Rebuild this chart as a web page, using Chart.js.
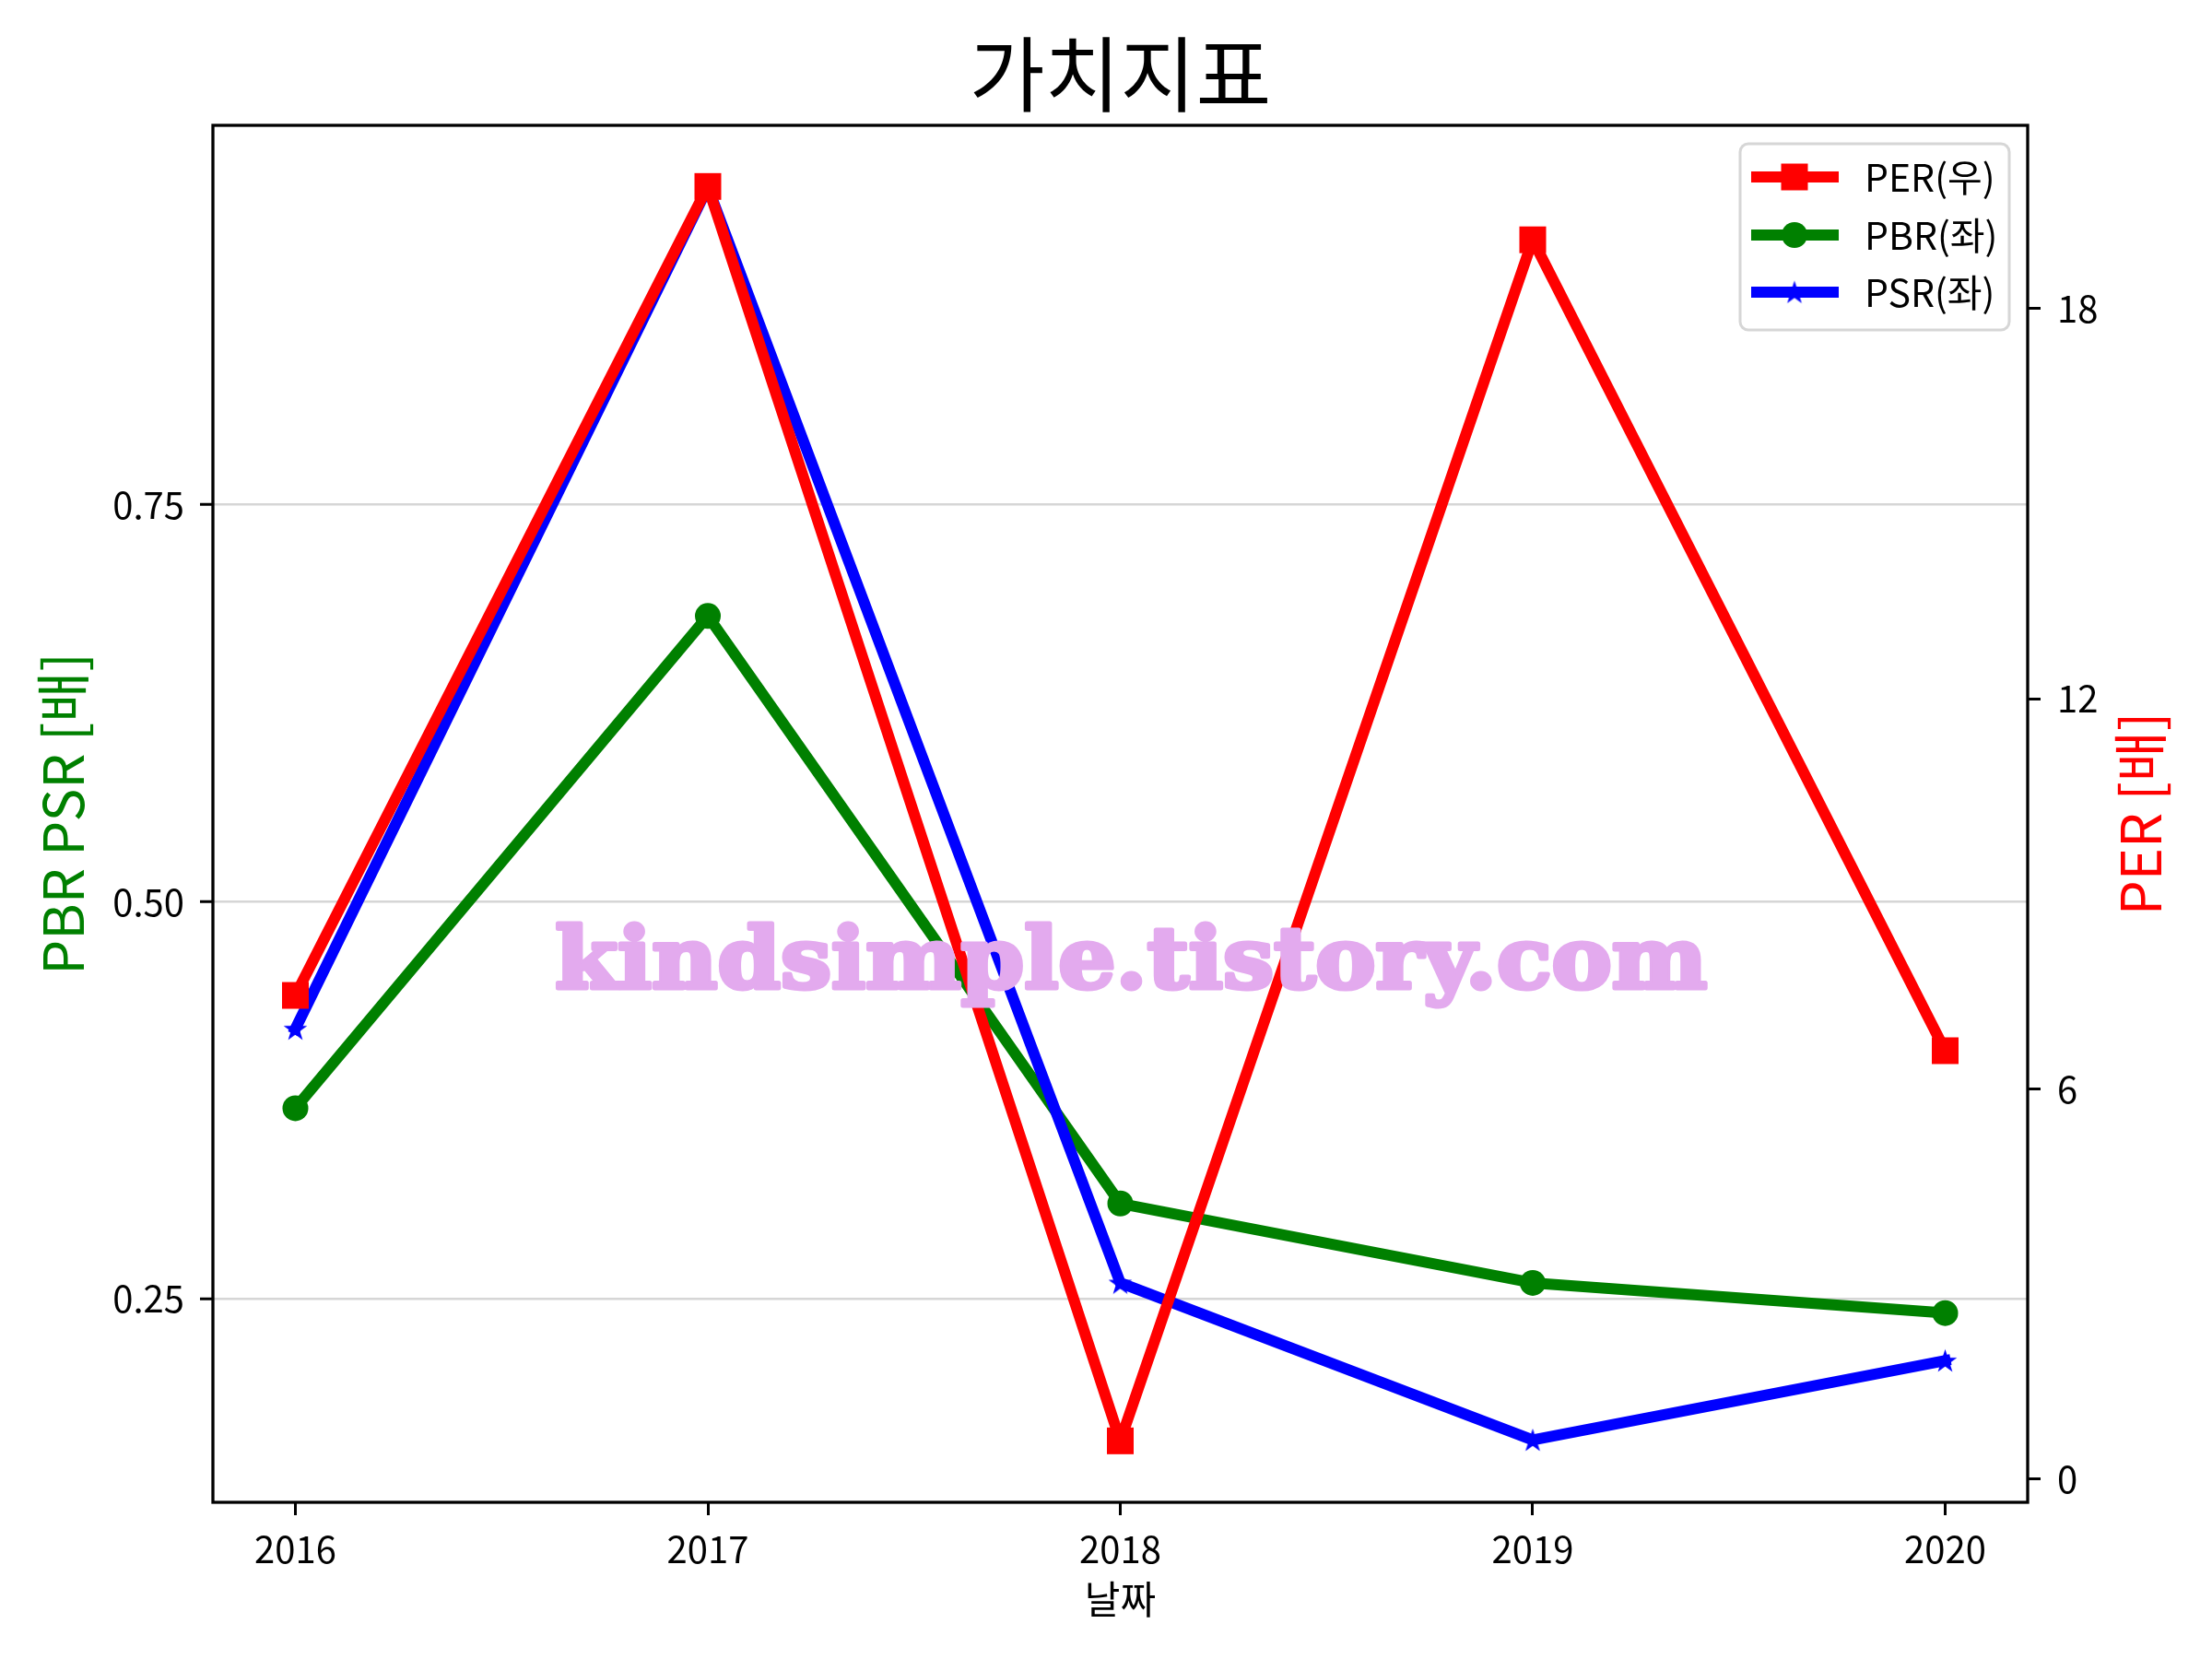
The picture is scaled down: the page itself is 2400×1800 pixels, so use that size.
<!DOCTYPE html>
<html>
<head>
<meta charset="utf-8">
<script src="https://cdn.jsdelivr.net/npm/chart.js@4.4.1/dist/chart.umd.min.js"></script>
<style>
  html, body { margin: 0; padding: 0; background: #fff; }
  canvas { display: block; }
</style>
</head>
<body>
<canvas id="chart" width="2400" height="1800"></canvas>
<script>
// values
const years = [2016, 2017, 2018, 2019, 2020];
const perValues = [7.44, 19.88, 0.59, 19.06, 6.59];
const pbrValues = [0.370, 0.680, 0.310, 0.260, 0.241];
const psrValues = [0.420, 0.950, 0.260, 0.161, 0.211];
const leftTicks = [0.25, 0.50, 0.75];
const rightTicks = [0, 6, 12, 18];
const seriesNames = ['PER(우)', 'PBR(좌)', 'PSR(좌)'];
const seriesColors = ['#ff0000', '#008000', '#0000ff'];

const FONT = "'Noto Sans CJK KR', 'Noto Sans', sans-serif";
Chart.defaults.font.family = FONT;
Chart.defaults.color = '#000';

function makeStar(color, r) {
    const c = document.createElement('canvas');
    const size = Math.ceil(r * 2) + 4;
    c.width = size;
    c.height = size;
    const g = c.getContext('2d');
    g.fillStyle = color;
    g.beginPath();
    for (let i = 0; i < 10; i++) {
        const rad = i % 2 === 0 ? r : r * 0.382;
        const a = -Math.PI / 2 + i * Math.PI / 5;
        const px = size / 2 + rad * Math.cos(a);
        const py = size / 2 + rad * Math.sin(a) + 1;
        if (i === 0) g.moveTo(px, py); else g.lineTo(px, py);
    }
    g.closePath();
    g.fill();
    return c;
}
const starImg = makeStar(seriesColors[2], 13.5);

const toPoints = vals => years.map((y, i) => ({ x: y, y: vals[i] }));

function drawMarker(ctx, kind, x, y, color) {
    ctx.fillStyle = color;
    if (kind === 'rect') {
        ctx.fillRect(x - 14.5, y - 14.5, 29, 29);
    } else if (kind === 'circle') {
        ctx.beginPath();
        ctx.arc(x, y, 14, 0, Math.PI * 2);
        ctx.fill();
    } else {
        ctx.drawImage(starImg, x - starImg.width / 2, y - starImg.height / 2);
    }
}

const decor = {
    id: 'decor',
    afterDatasetsDraw(chart) {
        const { ctx, chartArea: a } = chart;
        // watermark
        const text = 'kindsimple.tistory.com';
        ctx.save();
        ctx.font = "bold 92px 'DejaVu Serif', serif";
        const w = ctx.measureText(text).width;
        const cx = a.left + a.width * 0.506;
        const by = a.top + a.height * 0.6265;
        ctx.translate(cx, by);
        ctx.scale(1250 / w, 1);
        ctx.fillStyle = '#e3aaee';
        ctx.strokeStyle = '#e3aaee';
        ctx.lineWidth = 5;
        ctx.lineJoin = 'round';
        ctx.textAlign = 'center';
        ctx.textBaseline = 'alphabetic';
        ctx.strokeText(text, 0, 0);
        ctx.fillText(text, 0, 0);
        ctx.restore();
    },
    afterDraw(chart) {
        const { ctx, chartArea: a } = chart;
        ctx.save();
        // frame
        ctx.strokeStyle = '#000';
        ctx.lineWidth = 3.3;
        ctx.strokeRect(a.left, a.top, a.right - a.left, a.bottom - a.top);

        // title
        ctx.fillStyle = '#000';
        ctx.font = '89px ' + FONT;
        ctx.textAlign = 'center';
        ctx.textBaseline = 'middle';
        ctx.fillText('가치지표', (a.left + a.right) / 2, 80);

        // right axis title
        ctx.save();
        ctx.translate(2322, (a.top + a.bottom) / 2);
        ctx.rotate(-Math.PI / 2);
        ctx.fillStyle = '#ff0000';
        ctx.font = '60px ' + FONT;
        ctx.fillText('PER [배]', 0, 0);
        ctx.restore();

        // legend
        const bw = 292, bh = 202, r = 9;
        const bx = a.right - 20 - bw, by = a.top + 20;
        ctx.beginPath();
        ctx.moveTo(bx + r, by);
        ctx.arcTo(bx + bw, by, bx + bw, by + bh, r);
        ctx.arcTo(bx + bw, by + bh, bx, by + bh, r);
        ctx.arcTo(bx, by + bh, bx, by, r);
        ctx.arcTo(bx, by, bx + bw, by, r);
        ctx.closePath();
        ctx.fillStyle = 'rgba(255,255,255,0.8)';
        ctx.fill();
        ctx.strokeStyle = '#d6d6d6';
        ctx.lineWidth = 3;
        ctx.stroke();

        const kinds = ['rect', 'circle', 'star'];
        const rows = [36, 99, 161];
        ctx.font = '41px ' + FONT;
        ctx.textAlign = 'left';
        ctx.textBaseline = 'middle';
        seriesNames.forEach((name, i) => {
            const y = by + rows[i];
            ctx.strokeStyle = seriesColors[i];
            ctx.lineWidth = 12;
            ctx.lineCap = 'butt';
            ctx.beginPath();
            ctx.moveTo(bx + 12, y);
            ctx.lineTo(bx + 107, y);
            ctx.stroke();
            drawMarker(ctx, kinds[i], bx + 59, y, seriesColors[i]);
            ctx.fillStyle = '#000';
            ctx.fillText(name, bx + 135, y);
        });
        ctx.restore();
    }
};

const tickGrid = { drawOnChartArea: false, tickLength: 14, tickWidth: 3, tickColor: '#000' };

new Chart(document.getElementById('chart'), {
    type: 'line',
    data: {
        datasets: [
            {
                label: seriesNames[0], data: toPoints(perValues), yAxisID: 'yRight',
                borderColor: seriesColors[0], backgroundColor: seriesColors[0],
                borderWidth: 12, pointStyle: 'rect', pointRadius: 20.5,
                pointBorderWidth: 0, order: 0
            },
            {
                label: seriesNames[1], data: toPoints(pbrValues), yAxisID: 'yLeft',
                borderColor: seriesColors[1], backgroundColor: seriesColors[1],
                borderWidth: 12, pointStyle: 'circle', pointRadius: 14,
                pointBorderWidth: 0, order: 2
            },
            {
                label: seriesNames[2], data: toPoints(psrValues), yAxisID: 'yLeft',
                borderColor: seriesColors[2], backgroundColor: seriesColors[2],
                borderWidth: 12, pointStyle: starImg, pointRadius: 13,
                pointBorderWidth: 0, order: 1
            }
        ]
    },
    options: {
        responsive: false,
        animation: false,
        devicePixelRatio: 1,
        layout: { padding: { top: 136, left: 0, right: 0, bottom: 0 } },
        elements: { line: { tension: 0, borderJoinStyle: 'round', borderCapStyle: 'square' } },
        plugins: {
            legend: { display: false },
            tooltip: { enabled: false },
            title: { display: false }
        },
        scales: {
            x: {
                type: 'linear', min: 2015.8, max: 2020.2,
                afterBuildTicks: s => { s.ticks = years.map(v => ({ value: v })); },
                afterFit: s => { s.height = 170; },
                ticks: { font: { size: 40 }, color: '#000', padding: 13, maxRotation: 0, callback: v => String(v) },
                grid: tickGrid,
                border: { display: false },
                title: { display: true, text: '날짜', color: '#000', font: { size: 42 }, padding: { top: 0, bottom: 40 } }
            },
            yLeft: {
                type: 'linear', position: 'left', min: 0.1218, max: 0.989,
                afterBuildTicks: s => { s.ticks = leftTicks.map(v => ({ value: v })); },
                afterFit: s => { s.width = 231; },
                ticks: { font: { size: 40 }, color: '#000', padding: 17, callback: v => v.toFixed(2) },
                grid: { color: '#d6d6d6', lineWidth: 2.5, tickLength: 14, tickWidth: 3, tickColor: '#000' },
                border: { display: false },
                title: { display: true, text: 'PBR PSR [배]', color: '#008000', font: { size: 60 }, padding: { top: 32, bottom: 0 } }
            },
            yRight: {
                type: 'linear', position: 'right', min: -0.355, max: 20.82,
                afterBuildTicks: s => { s.ticks = rightTicks.map(v => ({ value: v })); },
                afterFit: s => { s.width = 200; },
                ticks: { font: { size: 40 }, color: '#000', padding: 18, callback: v => String(v) },
                grid: tickGrid,
                border: { display: false }
            }
        }
    },
    plugins: [decor]
});
</script>
</body>
</html>
